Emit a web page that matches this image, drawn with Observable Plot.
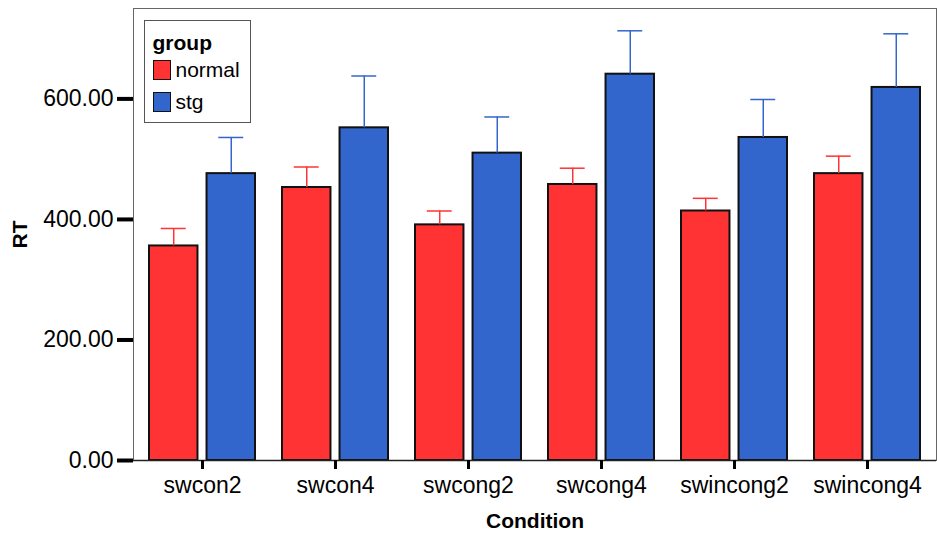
<!DOCTYPE html>
<html><head><meta charset="utf-8">
<script src="https://cdn.jsdelivr.net/npm/d3@7"></script>
<script src="https://cdn.jsdelivr.net/npm/@observablehq/plot@0.6"></script>
<style>
body{margin:0;background:#fff;}
#wrap{position:relative;width:937px;height:533px;font-family:"Liberation Sans",Arial,sans-serif;}
#legend{position:absolute;left:143.5px;top:20px;width:107px;height:103px;border:1.5px solid #555;background:#fff;box-sizing:border-box;}
#legend .title{position:absolute;left:8px;top:11px;font-size:21px;line-height:21px;font-weight:bold;color:#000;}
#legend .sw{position:absolute;left:8px;width:18px;height:20px;border:1.5px solid #111;box-sizing:border-box;}
#legend .lab{position:absolute;left:31px;font-size:21px;line-height:21px;color:#000;}
g[aria-label="x-axis label"], g[aria-label="y-axis label"]{font-size:21px;font-weight:bold;}
</style>
</head><body>
<div id="wrap"></div>
<script>
const conditions = ["swcon2","swcon4","swcong2","swcong4","swincong2","swincong4"];
const groups = ["normal","stg"];
const groupColors = ["#ff3333","#3366cc"];
const normalMean  = [356, 453, 391, 458, 414, 476];
const normalUpper = [385, 487, 414, 485, 435, 505];
const stgMean     = [476, 552, 510, 641, 536, 619];
const stgUpper    = [536, 638, 570, 713, 599, 708];
const yTicks = [0, 200, 400, 600];

const W = 937, H = 533, mL = 133, mR = 1, mT = 8, mB = 73;
const padIn = 0.2, padOut = 0.1;
const step = (W - mL - mR) / (conditions.length - padIn + 2 * padOut);
const bw = step * (1 - padIn);
const gap = 8, barW = (bw - gap) / 2, capW = 26;

const series = {
  normal: conditions.map((c, i) => ({condition: c, mean: normalMean[i], upper: normalUpper[i]})),
  stg: conditions.map((c, i) => ({condition: c, mean: stgMean[i], upper: stgUpper[i]}))
};

const marks = [];
groups.forEach((g, gi) => {
  const data = series[g];
  const color = groupColors[gi];
  const left = gi === 0;
  marks.push(Plot.barY(data, {
    x: "condition", y: "mean", fill: color, stroke: "#111", strokeWidth: 2,
    insetLeft: left ? 0 : barW + gap, insetRight: left ? barW + gap : 0
  }));
  marks.push(Plot.ruleX(data, {
    x: "condition", y1: "mean", y2: "upper", stroke: color, strokeWidth: 1.5,
    dx: (left ? -1 : 1) * (gap + barW) / 2
  }));
  marks.push(Plot.tickY(data, {
    x: "condition", y: "upper", stroke: color, strokeWidth: 1.5,
    insetLeft: left ? barW / 2 - capW / 2 : bw - barW / 2 - capW / 2,
    insetRight: left ? bw - barW / 2 - capW / 2 : barW / 2 - capW / 2
  }));
});

const chart = Plot.plot({
  width: W, height: H,
  marginLeft: mL, marginRight: mR, marginTop: mT, marginBottom: mB,
  style: {fontFamily: '"Liberation Sans", Arial, sans-serif', fontSize: "23px", color: "#000", background: "#fff"},
  x: {domain: conditions, paddingInner: padIn, paddingOuter: padOut, axis: null},
  y: {domain: [0, 750], axis: null},
  marks: [
    Plot.frame({stroke: "#666", strokeWidth: 1}),
    ...marks,
    Plot.ruleY([0], {stroke: "#222", strokeWidth: 1.5}),
    Plot.axisY(yTicks, {tickFormat: d3.format(".2f"), tickSize: 16, tickPadding: 4, strokeWidth: 4, stroke: "#000",
      fontSize: 23, label: "RT", labelAnchor: "center", labelOffset: 121, labelArrow: "none"}),
    Plot.axisX({tickSize: 9, tickPadding: 7, strokeWidth: 3, stroke: "#000", fontSize: 23,
      label: "Condition", labelAnchor: "center", labelOffset: 67, labelArrow: "none"})
  ]
});
const wrap = document.getElementById("wrap");
wrap.appendChild(chart);

const legend = document.createElement("div");
legend.id = "legend";
let html = '<div class="title">group</div>';
groups.forEach((g, i) => {
  const top = 38.5 + i * 32;
  html += `<div class="sw" style="top:${top}px;background:${groupColors[i]}"></div>`;
  html += `<div class="lab" style="top:${top - 0.5}px">${g}</div>`;
});
legend.innerHTML = html;
wrap.appendChild(legend);
</script>
</body></html>
